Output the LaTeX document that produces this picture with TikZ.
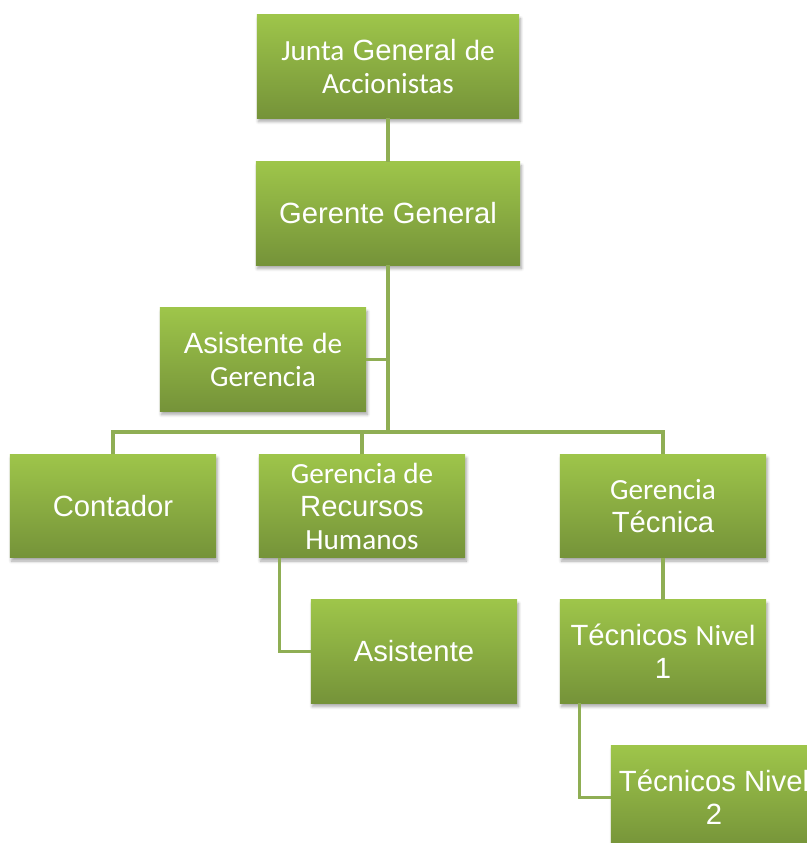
\documentclass[tikz,border=0pt]{standalone}
\usepackage{fontspec}
\setmainfont{Liberation Sans}
\newfontfamily\calibri{Carlito}
\usetikzlibrary{positioning,shadows.blur}

\begin{document}
\begin{tikzpicture}[x=0.025cm,y=-0.025cm,
  puesto/.style={rectangle,minimum width=5.15cm,minimum height=2.575cm,
    top color=ctop,bottom color=cbot,draw=none,text=white,align=center,
    font=\fontsize{20.8}{23.5}\selectfont,
    blur shadow={shadow xshift=1pt,shadow yshift=-2.5pt,shadow blur steps=6,shadow opacity=35}},
  ancho/.style={minimum width=6.55cm},
  enlace/.style={draw=clinea,line width=2.2pt}]
%
\useasboundingbox (0,0) rectangle (807,843);
%
\definecolor{ctop}{RGB}{158,197,74}
\definecolor{cbot}{RGB}{117,147,57}
\definecolor{clinea}{RGB}{143,174,84}
%
\node[puesto,ancho] (junta) at (388,66.5) {{\calibri Junta} General {\calibri de}\\{\calibri Accionistas}};
\node[puesto,ancho,minimum width=6.6cm] (gerente) at (388,213.5) {Gerente General};
\node[puesto] (asisger) at (263,359.5) {Asistente {\calibri de}\\{\calibri Gerencia}};
\node[puesto] (contador) at (113,506) {Contador};
\node[puesto] (rrhh) at (362,506) {{\calibri Gerencia de}\\Recursos\\{\calibri Humanos}};
\node[puesto] (tecnica) at (663,506) {{\calibri Gerencia}\\Técnica};
\node[puesto] (asist) at (414,651.5) {Asistente};
\node[puesto] (nivel1) at (663,651.5) {Técnicos {\calibri Nivel}\\1};
\node[puesto] (nivel2) at (714,797.5) {Técnicos Nivel\\2};
%
\coordinate (bus) at (388,432);
%
\draw[enlace] (junta) -- (gerente);
\draw[enlace] (gerente) -- (bus);
\draw[enlace] (asisger.east) -- (asisger.east -| bus);
\draw[enlace] (contador.north) |- (bus) -| (tecnica.north);
\draw[enlace] (rrhh.north) -- (rrhh.north |- bus);
\draw[enlace] ([xshift=0.525cm]rrhh.south west) |- (asist.west);
\draw[enlace] (tecnica) -- (nivel1);
\draw[enlace] ([xshift=0.5cm]nivel1.south west) |- (nivel2.west);
%
\end{tikzpicture}
\end{document}
